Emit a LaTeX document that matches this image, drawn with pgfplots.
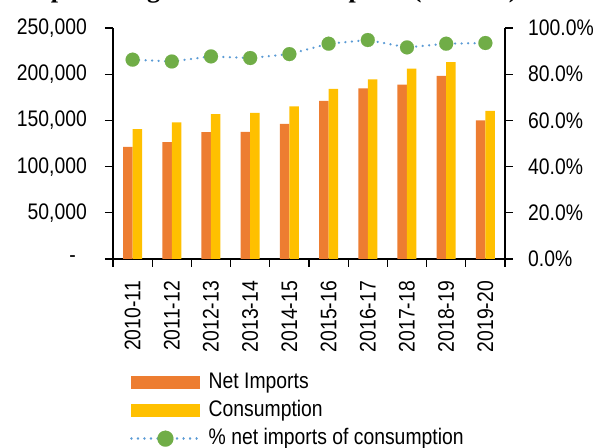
\documentclass[border=0pt]{standalone}
\usepackage{pgfplots}
\pgfplotsset{compat=1.18}
\usepackage{fontspec}
\setmainfont{Liberation Sans}[FakeStretch=0.86]
\newfontfamily\titlefont{Liberation Serif}
\definecolor{cOrange}{HTML}{ED7D31}
\definecolor{cYellow}{HTML}{FFC000}
\definecolor{cGreen}{HTML}{70AD47}
\definecolor{cBlue}{HTML}{5B9BD5}
\pgfplotstableread{
x imports consumption pct
0 121400 140500 86.3
1 126400 147800 85.5
2 137300 156800 87.7
3 137600 158200 87.0
4 146300 165100 88.7
5 171200 184200 93.2
6 184600 194400 94.8
7 188600 205900 91.6
8 198300 213200 93.2
9 149900 160400 93.5
}\datatable
\pgfplotsset{
  common/.style={
    scale only axis, width=392bp, height=231bp,
    at={(113bp,189bp)}, anchor=south west,
    xmin=-0.5, xmax=9.5, ymin=0,
    axis line style={line width=1.3bp, black},
    tick style={line width=1.3bp, black},
    tick align=outside, major tick length=8bp,
    clip=false, scaled y ticks=false,
    font=\fontsize{22.5bp}{27bp}\selectfont,
    ticklabel style={font=\fontsize{22.5bp}{27bp}\selectfont},
  }
}
\begin{document}
\begin{tikzpicture}
\useasboundingbox (0,0) rectangle (593bp,448bp);
\node[anchor=base west, inner sep=0pt, font={\fontsize{26bp}{30bp}\selectfont\titlefont\bfseries}] at (21bp,450bp) {as percentage of total consumption (in TMT)};
\begin{axis}[common,
  axis x line*=bottom, axis y line*=left,
  ymax=250000,
  ytick={0,50000,100000,150000,200000,250000},
  yticklabels={{-\hspace*{11bp}},{50,000},{100,000},{150,000},{200,000},{250,000}},
  yticklabel style={anchor=east, inner sep=0pt, xshift=-18bp},
  xtick={-0.5,0.5,1.5,2.5,3.5,4.5,5.5,6.5,7.5,8.5,9.5},
  x tick label as interval,
  xticklabels={2010-11,2011-12,2012-13,2013-14,2014-15,2015-16,2016-17,2017-18,2018-19,2019-20},
  xticklabel style={rotate=90, anchor=east, inner sep=0pt, xshift=-14bp},
  ybar=0pt, bar width=9.5bp,
]
\addplot[fill=cOrange, draw=none] table[x=x, y=imports] {\datatable};
\addplot[fill=cYellow, draw=none] table[x=x, y=consumption] {\datatable};
\end{axis}
\begin{axis}[common,
  axis x line=none, axis y line*=right,
  ymax=100,
  ytick={0,20,40,60,80,100},
  yticklabels={{0.0\%},{20.0\%},{40.0\%},{60.0\%},{80.0\%},{100.0\%}},
  yticklabel style={anchor=west, inner sep=0pt, xshift=15bp},
  legend style={draw=none, fill=none, at={(0.0434,-0.489)}, anchor=north west,
    inner sep=0pt, row sep=7bp, column sep=8bp,
    font=\fontsize{22.5bp}{27bp}\selectfont,
    nodes={inner sep=0pt, text height=16bp, text depth=5bp, anchor=west}},
  legend cell align=left,
]
\addlegendimage{legend image code/.code={\fill[cOrange] (0bp,-6bp) rectangle (68bp,6bp);}}
\addlegendentry{Net Imports}
\addlegendimage{legend image code/.code={\fill[cYellow] (0bp,-6bp) rectangle (68bp,6bp);}}
\addlegendentry{Consumption}
\addplot[cBlue, line width=2.5bp, dash pattern=on 0.01bp off 6.5bp, line cap=round,
  mark=*, mark size=7bp, mark options={solid, fill=cGreen, draw=cGreen, line width=0.1bp},
  legend image code/.code={
    \draw[cBlue, line width=2.5bp, dash pattern=on 0.01bp off 6.5bp, line cap=round] (0bp,0bp) -- (68bp,0bp);
    \filldraw[cGreen, solid, line width=0.1bp] (34bp,0bp) circle (8bp);}
] table[x=x, y=pct] {\datatable};
\addlegendentry{\% net imports of consumption}
\end{axis}
\end{tikzpicture}
\end{document}
